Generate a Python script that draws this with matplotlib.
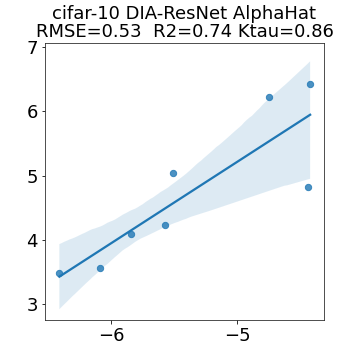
import matplotlib
matplotlib.use('Agg')
import matplotlib.pyplot as plt
import seaborn as sns
import numpy as np

# values
alpha_hat = [-6.41, -6.085, -5.84, -5.57, -5.505, -4.75, -4.42, -4.434]
accuracy = [3.49, 3.56, 4.09, 4.23, 5.04, 6.22, 6.43, 4.82]
title = "cifar-10 DIA-ResNet AlphaHat\nRMSE=0.53  R2=0.74 Ktau=0.86"

fig, ax = plt.subplots(figsize=(5, 5), dpi=72)
sns.regplot(x=np.array(alpha_hat), y=np.array(accuracy), ax=ax,
            color='#1f77b4', seed=7, scatter_kws={'s': 40})
ax.set_title(title, fontsize=18, linespacing=1.0)
ax.set_xticks([-6, -5])
ax.set_yticks([3, 4, 5, 6, 7])
ax.set_xlim(-6.524, -4.31)
ax.set_ylim(2.746, 7.06)
ax.tick_params(labelsize=18)
for s in ax.spines.values():
    s.set_color('#262626')

fig.savefig('out.png', dpi=72)
